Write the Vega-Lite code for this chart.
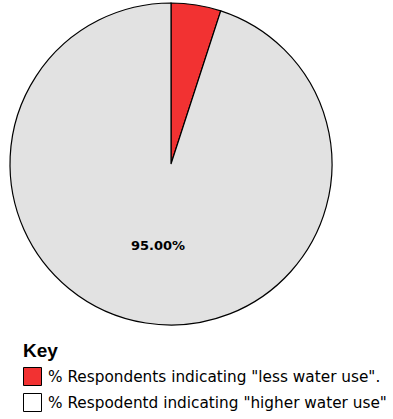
{
  "$schema": "https://vega.github.io/schema/vega-lite/v6.json",
  "width": 342,
  "height": 328,
  "autosize": "none",
  "padding": {"left": 0, "top": 0, "right": 51, "bottom": 91},
  "background": "white",
  "data": {
    "values": [
      {"group": "% Respondents indicating \"less water use\".", "pct": 5, "label": ""},
      {"group": "% Respodentd indicating \"higher water use\"", "pct": 95, "label": "95.00%"}
    ]
  },
  "encoding": {
    "theta": {"field": "pct", "type": "quantitative", "stack": true},
    "order": {"field": "pct", "type": "quantitative"}
  },
  "layer": [
    {
      "mark": {"type": "arc", "outerRadius": 161, "stroke": "black", "strokeWidth": 1.2},
      "encoding": {
        "fill": {
          "condition": {"test": "indexof(datum.group, 'less') >= 0", "value": "#f23232"},
          "value": "#e2e2e2"
        }
      }
    },
    {
      "mark": {"type": "arc", "outerRadius": 0, "strokeWidth": 0},
      "encoding": {
        "fill": {
          "field": "group",
          "type": "nominal",
          "sort": null,
          "scale": {
            "domain": ["% Respondents indicating \"less water use\".", "% Respodentd indicating \"higher water use\""],
            "range": ["#f23232", "#ffffff"]
          },
          "legend": {
            "title": "Key",
            "orient": "none",
            "legendX": 23,
            "legendY": 342,
            "direction": "vertical",
            "titleFont": "Liberation Sans",
            "titleFontSize": 19,
            "titleFontWeight": "bold",
            "titleColor": "black",
            "titlePadding": 6,
            "labelFont": "DejaVu Sans",
            "labelFontSize": 15.3,
            "labelColor": "black",
            "labelLimit": 400,
            "labelOffset": 6,
            "symbolType": "square",
            "symbolSize": 324,
            "symbolStrokeColor": "black",
            "symbolStrokeWidth": 1,
            "symbolOpacity": 1,
            "rowPadding": 3
          }
        }
      }
    },
    {
      "mark": {"type": "text", "radius": 83, "font": "DejaVu Sans", "fontSize": 13, "fontWeight": "bold", "color": "black"},
      "encoding": {
        "text": {"field": "label", "type": "nominal"}
      }
    }
  ]
}
